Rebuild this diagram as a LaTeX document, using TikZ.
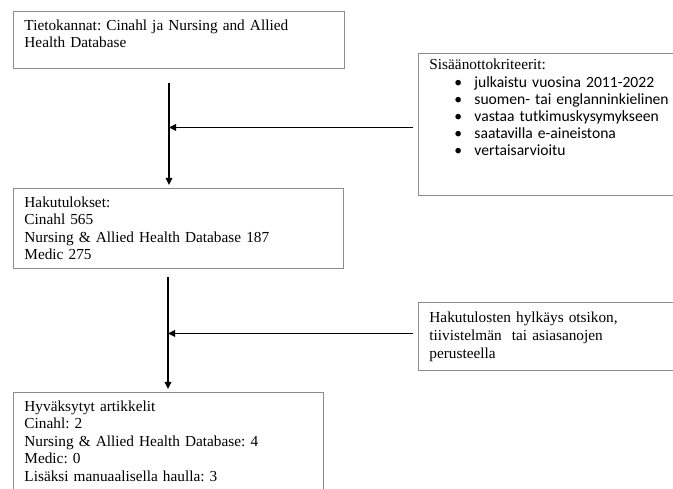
\documentclass[tikz,border=0pt]{standalone}
\usepackage{fontspec}
\setmainfont{Liberation Serif}
\newfontfamily\calfont{Carlito}
\usetikzlibrary{arrows.meta}
\definecolor{boxline}{gray}{0.55}
\newcommand{\critem}[1]{\hspace*{25pt}\makebox[20pt][l]{\fontsize{15.6}{17.2}\calfont\textbullet}{\fontsize{15.6}{17.2}\calfont #1}}

\begin{document}
\frenchspacing
\begin{tikzpicture}[x=1pt, y=-1pt,
  box/.style={draw=boxline, line width=0.9pt, anchor=north west,
    inner xsep=11pt, inner ysep=0pt, align=left,
    font=\fontsize{15.3}{17.5}\selectfont},
  openbox/.style={box, draw=none},
  edge/.style={draw=boxline, line width=0.9pt},
  flow/.style={line width=1.5pt, -{Triangle[length=7pt,width=6.5pt]}}]
  \useasboundingbox (0,0) rectangle (673,489);
  \coordinate (rim) at (673,0);

  \node[box, text width=309pt, text height=19pt, text depth=38pt] (db) at (13,11)
    {Tietokannat: Cinahl ja Nursing and Allied\\Health Database};
  \node[openbox, text width=320pt, text height=16pt, text depth=126pt,
    font=\fontsize{15.3}{17.1}\selectfont] (crit) at (418,53)
    {Sisäänottokriteerit:\\[0.6pt]
     \critem{julkaistu vuosina 2011-2022}\\
     \critem{suomen- tai englanninkielinen}\\
     \critem{vastaa tutkimuskysymykseen}\\
     \critem{saatavilla e-aineistona}\\
     \critem{vertaisarvioitu}};
  \node[box, text width=308pt, text height=19pt, text depth=61pt] (hits) at (13,188)
    {Hakutulokset:\\Cinahl 565\\Nursing \& Allied Health Database 187\\Medic 275};
  \node[openbox, text width=320pt, text height=20pt, text depth=48pt,
    font=\fontsize{15.3}{18}\selectfont] (reject) at (418,302)
    {Hakutulosten hylkäys otsikon,\\tiivistelmän\ \ tai asiasanojen\\perusteella};
  \node[box, text width=288pt, text height=19pt, text depth=91pt] (acc) at (13,392)
    {Hyväksytyt artikkelit\\Cinahl: 2\\Nursing \& Allied Health Database: 4\\Medic: 0\\Lisäksi manuaalisella haulla: 3};

  % side boxes run off the right edge
  \draw[edge] (crit.north west -| rim) -- (crit.north west) -- (crit.south west) -- (crit.south west -| rim);
  \draw[edge] (reject.north west -| rim) -- (reject.north west) -- (reject.south west) -- (reject.south west -| rim);

  % main flow
  \coordinate (s1) at (169,83);
  \coordinate (s2) at (168,277);
  \draw[flow, shorten >=3pt] (s1) -- (s1 |- hits.north);
  \draw[flow, shorten >=3pt] (s2) -- (s2 |- acc.north);

  \draw[flow, shorten <=5pt] ([yshift=-3pt]crit.west) -- ([yshift=-3pt]crit.west -| s1);
  \draw[flow, shorten <=5pt] ([yshift=3pt]reject.west) -- ([yshift=3pt]reject.west -| s2);
\end{tikzpicture}
\end{document}
